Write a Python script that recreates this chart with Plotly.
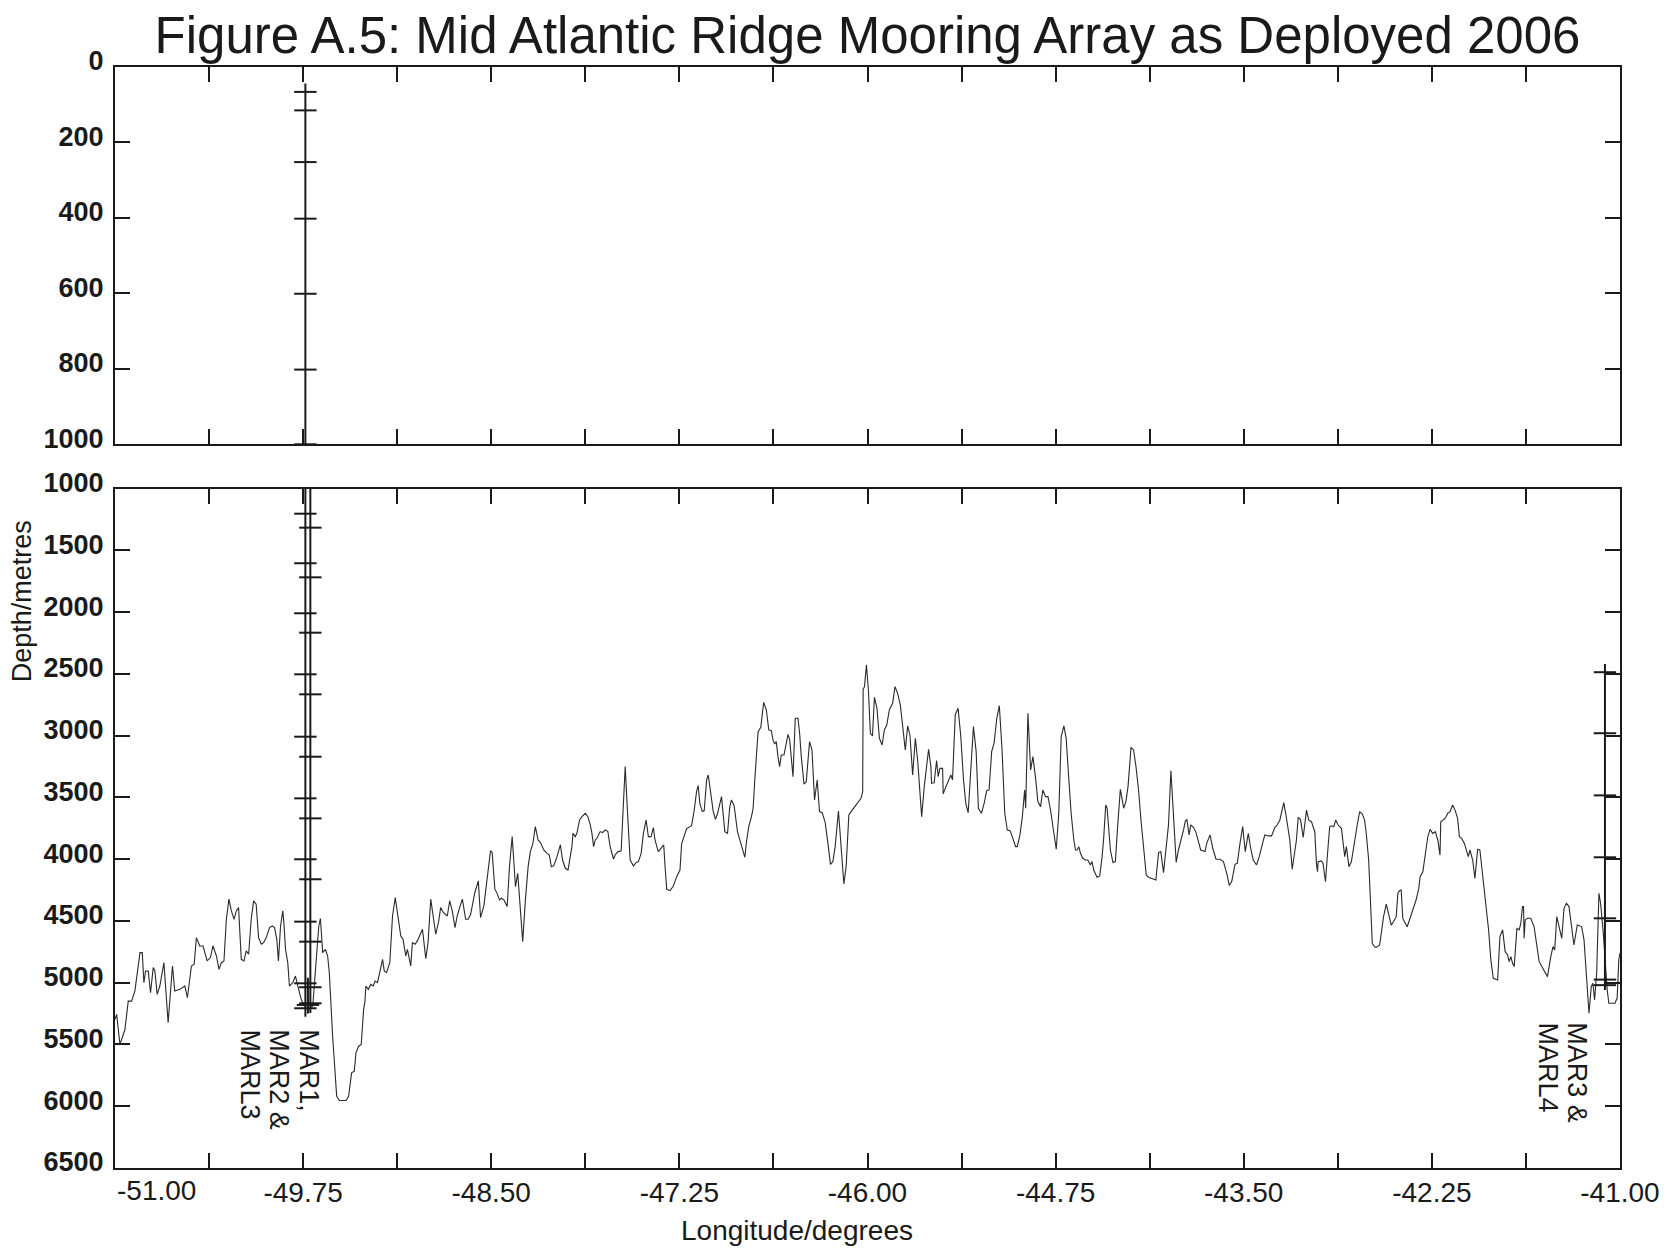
import plotly.graph_objects as go

# ---------------- data ----------------
bathy_lon = [
    -51.000, -50.989, -50.967, -50.934, -50.912, -50.890, -50.868, -50.834, -50.819, -50.808,
    -50.797, -50.779, -50.764, -50.746, -50.735, -50.720, -50.702, -50.675, -50.647, -50.618,
    -50.603, -50.569, -50.536, -50.519, -50.492, -50.474, -50.459, -50.448, -50.437, -50.415,
    -50.388, -50.366, -50.349, -50.326, -50.309, -50.293, -50.276, -50.260, -50.243, -50.227,
    -50.209, -50.194, -50.179, -50.161, -50.143, -50.128, -50.112, -50.095, -50.079, -50.062,
    -50.046, -50.028, -50.013, -49.995, -49.973, -49.955, -49.940, -49.925, -49.914, -49.900,
    -49.885, -49.878, -49.867, -49.852, -49.841, -49.819, -49.801, -49.785, -49.763, -49.741,
    -49.719, -49.686, -49.664, -49.646, -49.635, -49.620, -49.602, -49.587, -49.576, -49.554,
    -49.527, -49.509, -49.465, -49.448, -49.428, -49.410, -49.399, -49.381, -49.364, -49.348,
    -49.339, -49.333, -49.317, -49.300, -49.284, -49.271, -49.256, -49.244, -49.222, -49.211,
    -49.196, -49.174, -49.156, -49.138, -49.119, -49.101, -49.086, -49.068, -49.057, -49.035,
    -49.024, -49.006, -48.991, -48.968, -48.957, -48.935, -48.920, -48.902, -48.885, -48.869,
    -48.851, -48.836, -48.818, -48.792, -48.776, -48.759, -48.741, -48.726, -48.710, -48.692,
    -48.670, -48.653, -48.637, -48.609, -48.586, -48.571, -48.549, -48.527, -48.505, -48.494,
    -48.476, -48.461, -48.445, -48.432, -48.416, -48.394, -48.379, -48.361, -48.339, -48.324,
    -48.306, -48.291, -48.273, -48.255, -48.240, -48.224, -48.207, -48.189, -48.173, -48.151,
    -48.129, -48.114, -48.101, -48.085, -48.063, -48.041, -48.026, -48.008, -47.990, -47.975,
    -47.964, -47.957, -47.942, -47.931, -47.913, -47.897, -47.875, -47.858, -47.842, -47.831,
    -47.820, -47.809, -47.798, -47.776, -47.761, -47.743, -47.725, -47.710, -47.688, -47.677,
    -47.659, -47.637, -47.626, -47.610, -47.593, -47.577, -47.555, -47.538, -47.522, -47.504,
    -47.489, -47.471, -47.456, -47.438, -47.423, -47.412, -47.390, -47.374, -47.354, -47.345,
    -47.334, -47.312, -47.290, -47.268, -47.246, -47.235, -47.217, -47.202, -47.169, -47.151,
    -47.136, -47.125, -47.114, -47.098, -47.085, -47.069, -47.058, -47.043, -47.025, -47.010,
    -46.996, -46.970, -46.959, -46.948, -46.930, -46.915, -46.904, -46.886, -46.864, -46.849,
    -46.826, -46.815, -46.804, -46.789, -46.771, -46.760, -46.749, -46.727, -46.709, -46.690,
    -46.672, -46.656, -46.639, -46.628, -46.617, -46.606, -46.595, -46.584, -46.573, -46.555,
    -46.539, -46.528, -46.517, -46.506, -46.495, -46.480, -46.462, -46.451, -46.440, -46.422,
    -46.407, -46.396, -46.385, -46.369, -46.352, -46.334, -46.319, -46.301, -46.281, -46.263,
    -46.246, -46.230, -46.215, -46.193, -46.175, -46.157, -46.142, -46.124, -46.109, -46.076,
    -46.043, -46.032, -46.029, -46.020, -46.007, -45.994, -45.981, -45.967, -45.954, -45.937,
    -45.921, -45.903, -45.888, -45.872, -45.855, -45.833, -45.817, -45.800, -45.782, -45.766,
    -45.749, -45.733, -45.718, -45.700, -45.682, -45.667, -45.656, -45.640, -45.623, -45.607,
    -45.594, -45.579, -45.574, -45.557, -45.541, -45.530, -45.519, -45.501, -45.497, -45.479,
    -45.464, -45.446, -45.435, -45.417, -45.398, -45.380, -45.362, -45.347, -45.331, -45.314,
    -45.296, -45.278, -45.263, -45.243, -45.225, -45.208, -45.192, -45.175, -45.159, -45.141,
    -45.124, -45.106, -45.088, -45.071, -45.053, -45.038, -45.016, -45.005, -44.987, -44.971,
    -44.956, -44.949, -44.934, -44.916, -44.901, -44.883, -44.868, -44.850, -44.835, -44.817,
    -44.801, -44.784, -44.766, -44.746, -44.729, -44.713, -44.695, -44.680, -44.662, -44.647,
    -44.629, -44.618, -44.607, -44.596, -44.585, -44.570, -44.552, -44.536, -44.519, -44.508,
    -44.497, -44.475, -44.457, -44.441, -44.430, -44.417, -44.408, -44.397, -44.386, -44.369,
    -44.353, -44.338, -44.320, -44.309, -44.298, -44.283, -44.269, -44.249, -44.232, -44.216,
    -44.199, -44.183, -44.166, -44.148, -44.132, -44.099, -44.084, -44.066, -44.051, -44.033,
    -44.015, -44.000, -43.984, -43.971, -43.962, -43.949, -43.934, -43.916, -43.900, -43.889,
    -43.878, -43.863, -43.852, -43.834, -43.817, -43.801, -43.786, -43.757, -43.746, -43.724,
    -43.706, -43.684, -43.658, -43.635, -43.613, -43.596, -43.580, -43.558, -43.543, -43.525,
    -43.507, -43.490, -43.470, -43.455, -43.437, -43.415, -43.397, -43.375, -43.360, -43.337,
    -43.315, -43.293, -43.282, -43.260, -43.234, -43.216, -43.194, -43.178, -43.161, -43.150,
    -43.138, -43.123, -43.105, -43.094, -43.083, -43.068, -43.050, -43.039, -43.028, -43.017,
    -43.010, -43.006, -42.984, -42.973, -42.957, -42.944, -42.929, -42.918, -42.902, -42.889,
    -42.873, -42.851, -42.840, -42.829, -42.818, -42.801, -42.785, -42.763, -42.748, -42.730,
    -42.712, -42.697, -42.686, -42.670, -42.659, -42.646, -42.631, -42.620, -42.597, -42.580,
    -42.571, -42.553, -42.536, -42.520, -42.505, -42.487, -42.476, -42.465, -42.454, -42.443,
    -42.432, -42.414, -42.399, -42.377, -42.355, -42.337, -42.328, -42.310, -42.293, -42.277,
    -42.262, -42.244, -42.227, -42.211, -42.196, -42.191, -42.178, -42.167, -42.156, -42.145,
    -42.129, -42.112, -42.096, -42.079, -42.067, -42.052, -42.034, -42.023, -42.008, -41.997,
    -41.979, -41.964, -41.946, -41.931, -41.913, -41.898, -41.884, -41.873, -41.858, -41.842,
    -41.825, -41.813, -41.798, -41.780, -41.763, -41.747, -41.736, -41.725, -41.714, -41.703,
    -41.685, -41.670, -41.659, -41.648, -41.641, -41.637, -41.630, -41.615, -41.593, -41.571,
    -41.537, -41.493, -41.482, -41.460, -41.445, -41.434, -41.420, -41.405, -41.387, -41.372,
    -41.356, -41.339, -41.317, -41.306, -41.284, -41.255, -41.239, -41.222, -41.206, -41.191,
    -41.180, -41.169, -41.155, -41.140, -41.129, -41.111, -41.096, -41.085, -41.074, -41.034,
    -41.019, -41.008, -41.001,
]
bathy_depth = [
    5297, 5257, 5500, 5379, 5149, 5149, 5068, 4757, 4757, 5000,
    4905, 4905, 5081, 4878, 4905, 5095, 5027, 4838, 5324, 4865,
    5068, 5054, 5027, 5122, 4865, 4851, 4635, 4676, 4703, 4703,
    4824, 4797, 4703, 4784, 4892, 4838, 4824, 4487, 4324, 4419,
    4487, 4419, 4392, 4811, 4824, 4743, 4770, 4487, 4338, 4365,
    4635, 4689, 4676, 4635, 4554, 4541, 4554, 4649, 4824, 4541,
    4419, 4514, 4730, 4838, 5027, 5000, 4946, 5027, 5135, 5189,
    5216, 5189, 4811, 4541, 4481, 4757, 4730, 4784, 4919, 5433,
    5919, 5954, 5954, 5919, 5730, 5716, 5568, 5514, 5500, 5216,
    5149, 5027, 5054, 5014, 5027, 4987, 5000, 4933, 4811, 4905,
    4919, 4838, 4460, 4311, 4487, 4622, 4649, 4784, 4730, 4865,
    4676, 4689, 4662, 4595, 4568, 4805, 4676, 4324, 4460, 4608,
    4514, 4392, 4432, 4460, 4338, 4419, 4554, 4460, 4392, 4324,
    4487, 4487, 4446, 4270, 4176, 4473, 4378, 4162, 3932, 3946,
    4243, 4277, 4330, 4317, 4330, 4384, 4061, 3818, 4223, 4115,
    4384, 4668, 4330, 4061, 3939, 3877, 3737, 3845, 3866, 3926,
    3953, 3966, 4061, 4055, 3980, 3885, 4007, 4074, 4088, 3993,
    3899, 3791, 3818, 3791, 3683, 3656, 3629, 3656, 3723, 3791,
    3899, 3845, 3831, 3777, 3785, 3764, 3777, 3899, 3999, 3966,
    3939, 3934, 3629, 3251, 3656, 4007, 4055, 4028, 4020, 3953,
    3791, 3683, 3818, 3818, 3745, 3845, 3939, 3912, 3885, 4061,
    4244, 4255, 4217, 4142, 4088, 3877, 3818, 3753, 3729, 3602,
    3454, 3405, 3548, 3615, 3607, 3359, 3319, 3467, 3615, 3678,
    3629, 3494, 3656, 3777, 3791, 3575, 3521, 3570, 3777, 3845,
    3939, 3985, 3858, 3737, 3656, 3588, 3359, 2968, 2933, 2731,
    2793, 2954, 2960, 3035, 3068, 3049, 3170, 3251, 3157, 3157,
    3057, 2990, 3035, 3170, 3332, 2860, 2860, 2981, 3170, 3392,
    3373, 3211, 3049, 3116, 3521, 3359, 3615, 3624, 3705, 3872,
    4042, 4020, 3899, 3610, 3899, 4201, 4061, 3642, 3615, 3561,
    3508, 3454, 2625, 2604, 2428, 2631, 2981, 3003, 2690, 2779,
    3022, 3076, 2954, 2914, 2793, 2739, 2604, 2658, 2752, 2927,
    3116, 2922, 2995, 3319, 3022, 3197, 3413, 3656, 3413, 3224,
    3111, 3251, 3386, 3381, 3203, 3332, 3265, 3265, 3472, 3413,
    3373, 3319, 3359, 2833, 2779, 3008, 3359, 3548, 3624, 3265,
    2927, 3130, 3588, 3629, 3548, 3446, 3440, 3130, 3062, 2860,
    2758, 3116, 3629, 3764, 3769, 3818, 3899, 3899, 3804, 3656,
    3440, 3588, 2820, 3278, 3170, 3346, 3534, 3575, 3440, 3494,
    3494, 3602, 3737, 3920, 3629, 3008, 2922, 3022, 3359, 3629,
    3845, 3926, 3926, 3899, 3953, 3993, 4007, 4007, 4047, 4020,
    4088, 4147, 4136, 3980, 3818, 3561, 3588, 3791, 3926, 4028,
    4020, 3737, 3435, 3508, 3588, 3534, 3413, 3095, 3116, 3251,
    3440, 3683, 3926, 4128, 4147, 4163, 4169, 3947, 3939, 4109,
    3899, 3723, 3284, 3548, 3791, 4026, 3926, 3845, 3764, 3696,
    3678, 3804, 3723, 3742, 3785, 3858, 3926, 3939, 3872, 3804,
    3912, 4001, 4001, 4020, 4115, 4214, 4182, 4042, 4034, 3872,
    3737, 3939, 3791, 3904, 4007, 4047, 3980, 3872, 3804, 3812,
    3812, 3742, 3731, 3683, 3543, 3669, 3845, 4082, 3912, 3845,
    3662, 3678, 3824, 3711, 3603, 3684, 3697, 3738, 3778, 4034,
    4102, 4021, 4015, 4034, 4183, 3967, 3738, 3730, 3738, 3684,
    3724, 3751, 3873, 3980, 3899, 4061, 4021, 3873, 3738, 3616,
    3635, 3684, 3792, 4007, 4277, 4682, 4709, 4714, 4695, 4520,
    4466, 4364, 4466, 4534, 4507, 4466, 4277, 4256, 4250, 4480,
    4507, 4547, 4493, 4412, 4331, 4237, 4142, 4102, 3953, 3819,
    3759, 3792, 3778, 3845, 3967, 3697, 3684, 3678, 3657, 3630,
    3616, 3562, 3603, 3670, 3819, 3832, 3873, 3926, 3980, 3926,
    4007, 4156, 3921, 3926, 4115, 4277, 4412, 4574, 4817, 4965,
    4973, 4978, 4627, 4573, 4749, 4776, 4830, 4789, 4843, 4870,
    4560, 4573, 4519, 4384, 4384, 4641, 4492, 4479, 4479, 4546,
    4830, 4937, 4951, 4789, 4708, 4735, 4465, 4546, 4641, 4398,
    4357, 4384, 4600, 4695, 4533, 4546, 4654, 4978, 5248, 5032,
    5005, 5140, 4924, 4276, 4357, 4600, 4924, 5059, 5167, 5167,
    5126, 4816, 4762,
]

# moorings: longitude, line extent (top/bottom depth), instrument depths
mar1_lon = -49.735
mar1_top, mar1_bottom = 44, 5275
mar1_instruments = [66, 115, 252, 402, 601, 802, 1000, 1204, 1605, 2010, 2504,
                    3009, 3508, 4001, 4506, 5005, 5207]
mar2_lon = -49.702
mar2_top, mar2_bottom = 1000, 5245
mar2_instruments = [1317, 1719, 2167, 2666, 3171, 3670, 4163, 4668, 5037, 5167]
marl3_lon = -49.718
marl3_top, marl3_bottom = 4960, 5250
marl3_instruments = [5180]
mar3_lon = -41.100
mar3_top, mar3_bottom = 2420, 5060
mar3_instruments = [2487, 2981, 3484, 3985, 4479, 4975, 5020]

# labels (one entry per text line)
label_lines = ["MAR1,", "MAR2 &", "MARL3", "MAR3 &", "MARL4"]
label_lon = [-49.708, -49.907, -50.106, -41.282, -41.480]
label_top_depth = [5360, 5360, 5360, 5305, 5305]

x_tick_values = [-51.0, -50.375, -49.75, -49.125, -48.5, -47.875, -47.25, -46.625,
                 -46.0, -45.375, -44.75, -44.125, -43.5, -42.875, -42.25, -41.625, -41.0]
x_tick_labels = ["", "", "-49.75", "", "-48.50", "", "-47.25", "", "-46.00", "",
                 "-44.75", "", "-43.50", "", "-42.25", "", "-41.00"]
first_x_label = "-51.00"
top_y_ticks = [0, 200, 400, 600, 800, 1000]
bottom_y_ticks = [1000, 1500, 2000, 2500, 3000, 3500, 4000, 4500, 5000, 5500, 6000, 6500]

title_text = "Figure A.5: Mid Atlantic Ridge Mooring Array as Deployed 2006"
x_title = "Longitude/degrees"
y_title = "Depth/metres"

# ---------------- figure ----------------
FONT = "Liberation Sans, Arial, Helvetica, sans-serif"
INK = "#1a1a1a"

fig = go.Figure()

fig.add_trace(go.Scatter(x=bathy_lon, y=bathy_depth, mode="lines",
                         line=dict(color="#2a2a2a", width=1.1),
                         xaxis="x", yaxis="y", showlegend=False, hoverinfo="skip"))


def mooring(lon, top, bottom, instruments, xa, ya, ylo, yhi):
    fig.add_trace(go.Scatter(x=[lon, lon], y=[top, bottom], mode="lines",
                             line=dict(color=INK, width=2),
                             xaxis=xa, yaxis=ya, showlegend=False, hoverinfo="skip"))
    ins = [d for d in instruments if ylo <= d <= yhi]
    fig.add_trace(go.Scatter(x=[lon] * len(ins), y=ins, mode="markers",
                             marker=dict(symbol="line-ew", size=16,
                                         line=dict(color=INK, width=2)),
                             cliponaxis=False,
                             xaxis=xa, yaxis=ya, showlegend=False, hoverinfo="skip"))


# top panel (0-1000 m)
mooring(mar1_lon, mar1_top, 1030, mar1_instruments, "x2", "y2", 0, 1000)
# bottom panel (1000-6500 m)
mooring(mar1_lon, 985, mar1_bottom, mar1_instruments, "x", "y", 1001, 6500)
mooring(mar2_lon, 985, mar2_bottom, mar2_instruments, "x", "y", 1001, 6500)
mooring(marl3_lon, marl3_top, marl3_bottom, marl3_instruments, "x", "y", 1001, 6500)
mooring(mar3_lon, mar3_top, mar3_bottom, mar3_instruments, "x", "y", 1001, 6500)

axis_common = dict(showline=True, linecolor=INK, linewidth=2, mirror="ticks",
                   ticks="inside", ticklen=15, tickwidth=2, tickcolor=INK,
                   showgrid=False, zeroline=False)

W, H = 1672, 1248
L, R, T, B = 115, 47, 67, 80
plot_w = W - L - R
plot_h = H - T - B
bottom_top_px = 488.5
top_bottom_px = 444.3

fig.update_layout(
    width=W, height=H,
    margin=dict(l=L, r=R, t=T, b=B),
    paper_bgcolor="white", plot_bgcolor="white",
    font=dict(family=FONT, color=INK),
    title=dict(text=title_text, x=0.5, xref="paper", xanchor="center",
               y=1 - 35 / H, yref="container", yanchor="middle",
               font=dict(family=FONT, size=51, color=INK)),
    xaxis=dict(domain=[0, 1], anchor="y", range=[-51, -41],
               tickvals=x_tick_values, ticktext=x_tick_labels,
               tickfont=dict(family=FONT, size=28, color=INK),
               ticklabelstandoff=-2,
               **axis_common),
    xaxis2=dict(domain=[0, 1], anchor="y2", range=[-51, -41], matches="x",
                tickvals=x_tick_values, showticklabels=False, **axis_common),
    yaxis=dict(domain=[0, (H - B - bottom_top_px) / plot_h], anchor="x",
               range=[6500, 1000], tickvals=bottom_y_ticks,
               ticktext=[str(v) for v in bottom_y_ticks],
               tickfont=dict(family=FONT, size=27, color=INK, weight="bold"),
               ticklabelstandoff=4, ticklabelshift=6,
               **axis_common),
    yaxis2=dict(domain=[(H - B - top_bottom_px) / plot_h, 1], anchor="x2",
                range=[1000, 0], tickvals=top_y_ticks,
                ticktext=[str(v) for v in top_y_ticks],
                tickfont=dict(family=FONT, size=27, color=INK, weight="bold"),
                ticklabelstandoff=4, ticklabelshift=6,
                **axis_common),
)

annotations = []
for txt, lon, dep in zip(label_lines, label_lon, label_top_depth):
    annotations.append(dict(text=txt, x=lon, y=dep, xref="x", yref="y",
                            textangle=90, xanchor="center", yanchor="top",
                            showarrow=False,
                            font=dict(family=FONT, size=27, color=INK)))
annotations.append(dict(text=first_x_label, x=-51.0, y=0, xref="x", yref="paper",
                        xanchor="left", yanchor="top", yshift=-5, showarrow=False,
                        font=dict(family=FONT, size=28, color=INK)))
annotations.append(dict(text=x_title, x=(799 - L) / plot_w, y=(H - B - 1230) / plot_h,
                        xref="paper", yref="paper", xanchor="center", yanchor="middle",
                        showarrow=False, font=dict(family=FONT, size=28, color=INK)))
annotations.append(dict(text=y_title, x=(22 - L) / plot_w, y=(H - B - 601) / plot_h,
                        xref="paper", yref="paper", textangle=-90,
                        xanchor="center", yanchor="middle", showarrow=False,
                        font=dict(family=FONT, size=27, color=INK)))
fig.update_layout(annotations=annotations)

fig.write_html("out.html")
